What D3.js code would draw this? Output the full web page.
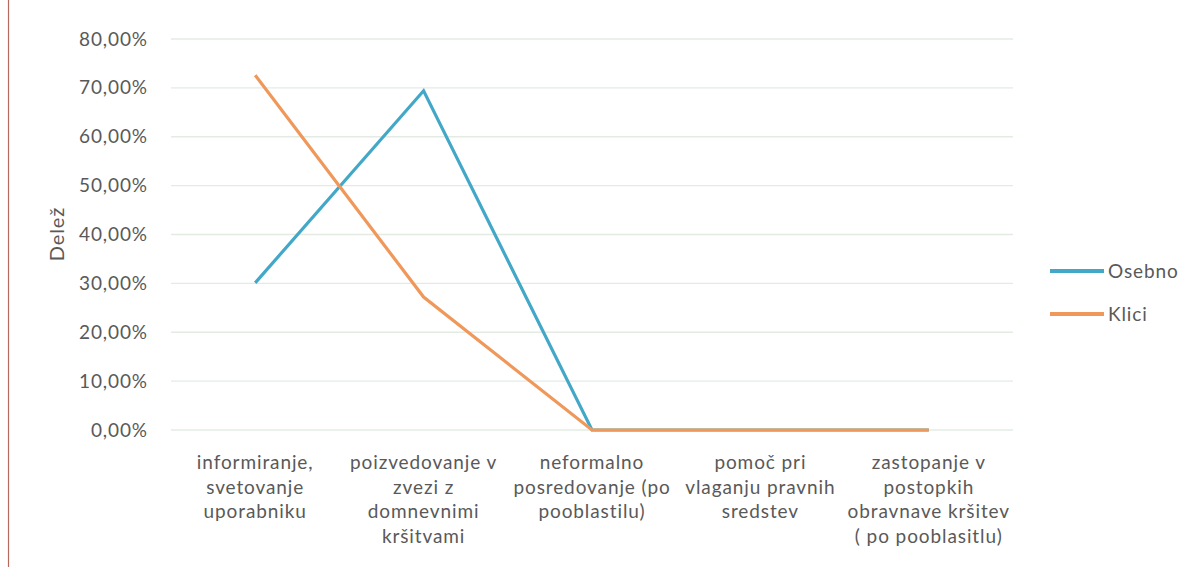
<!DOCTYPE html>
<html>
<head>
<meta charset="utf-8">
<script src="https://cdn.jsdelivr.net/npm/d3@7"></script>
<style>
  html, body { margin: 0; padding: 0; background: #fff; }
  svg { display: block; }
  text { font-family: Lato, "Open Sans", sans-serif; fill: #595959; letter-spacing: 0.9px; }
</style>
</head>
<body>
<svg id="chart" width="1192" height="567"></svg>
<script>
const categories = [
  ["informiranje,", "svetovanje", "uporabniku"],
  ["poizvedovanje v", "zvezi z", "domnevnimi", "kršitvami"],
  ["neformalno", "posredovanje (po", "pooblastilu)"],
  ["pomoč pri", "vlaganju pravnih", "sredstev"],
  ["zastopanje v", "postopkih", "obravnave kršitev", "( po pooblasitlu)"]
];
const seriesNames = ["Osebno", "Klici"];
const osebno = [0.301, 0.694, 0, 0, 0];
const klici = [0.726, 0.272, 0, 0, 0];
const yTicks = [0, 0.1, 0.2, 0.3, 0.4, 0.5, 0.6, 0.7, 0.8];
const colors = ["#43a8c8", "#f0975a"];

const svg = d3.select("#chart");
const plot = { left: 171, right: 1013, top: 39, bottom: 430 };

// scan border line
svg.append("line").attr("x1", 8.5).attr("x2", 8.5).attr("y1", 0).attr("y2", 567)
  .attr("stroke", "#b46a5e").attr("stroke-width", 1.2);

const x = d3.scaleBand().domain(d3.range(categories.length))
  .range([plot.left, plot.right]);
const y = d3.scaleLinear().domain([0, 0.8]).range([plot.bottom, plot.top]);

const fmt = v => d3.format(".2f")(v * 100).replace(".", ",") + "%";

// gridlines
svg.append("g").selectAll("line").data(yTicks).join("line")
  .attr("x1", plot.left).attr("x2", plot.right)
  .attr("y1", d => y(d)).attr("y2", d => y(d))
  .attr("stroke", "#e3ebe3").attr("stroke-width", 1.3);

// y axis labels
const yAxis = svg.append("g").attr("transform", `translate(${plot.left - 23},0)`)
  .call(d3.axisLeft(y).tickValues(yTicks).tickFormat(fmt).tickSize(0).tickPadding(0));
yAxis.select(".domain").remove();
yAxis.selectAll("text").style("font-size", "19px").attr("fill", "#595959")
  .style("font-family", "Lato, 'Open Sans', sans-serif");

// y title
svg.append("text").attr("transform", "translate(64,234) rotate(-90)")
  .attr("text-anchor", "middle").style("font-size", "20px").text("Delež");

// x labels
const xl = svg.append("g").selectAll("text").data(categories).join("text")
  .attr("text-anchor", "middle").style("font-size", "19px")
  .attr("transform", (d, i) => `translate(${x(i) + x.bandwidth() / 2},469)`);
xl.selectAll("tspan").data(d => d).join("tspan")
  .attr("x", 0).attr("dy", (d, i) => i === 0 ? 0 : 24.5).text(d => d);

// lines
const line = d3.line().x((d, i) => x(i) + x.bandwidth() / 2).y(d => y(d));
[osebno, klici].forEach((s, k) => {
  svg.append("path").datum(s).attr("d", line).attr("fill", "none")
    .attr("stroke", colors[k]).attr("stroke-width", 3.2)
    .attr("stroke-linejoin", "miter");
});

// legend
const lg = svg.append("g").selectAll("g").data(seriesNames).join("g")
  .attr("transform", (d, i) => `translate(1050,${271 + i * 43})`);
lg.append("line").attr("x1", 0).attr("x2", 54).attr("y1", 0).attr("y2", 0)
  .attr("stroke", (d, i) => colors[i]).attr("stroke-width", 4);
lg.append("text").attr("x", 58).attr("y", 7).style("font-size", "19px").text(d => d);
</script>
</body>
</html>
